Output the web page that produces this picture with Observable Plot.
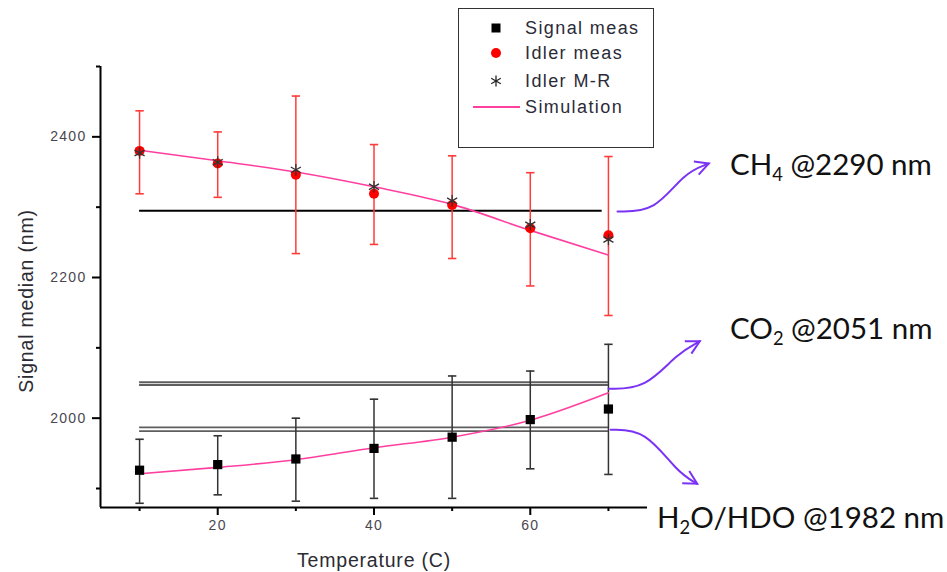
<!DOCTYPE html>
<html><head><meta charset="utf-8">
<script src="https://cdn.jsdelivr.net/npm/d3@7"></script>
<script src="https://cdn.jsdelivr.net/npm/@observablehq/plot@0.6"></script>
<style>
body{margin:0;background:#fff;}
#wrap{position:relative;width:947px;height:572px;overflow:hidden;background:#fff;}
#legend{position:absolute;left:458px;top:8px;width:196px;height:140px;border:1.5px solid #333;background:#fff;box-sizing:border-box;font-family:"Liberation Sans",Arial,sans-serif;font-size:18px;letter-spacing:1.4px;color:#2b2b38;}
#legend .ic{position:absolute;left:12px;width:50px;height:26px;}
#legend .tx{position:absolute;left:66px;height:22px;line-height:22px;white-space:nowrap;}
.ann{position:absolute;font-family:Lato,"Open Sans",sans-serif;font-size:29.5px;line-height:29.5px;white-space:nowrap;color:#111;}
.ann sub{font-size:0.62em;vertical-align:-0.32em;line-height:0;}
g[aria-label="y-axis tick label"] text, g[aria-label="x-axis tick label"] text{letter-spacing:1.3px;}
g[aria-label="text"] text{letter-spacing:0.8px;}
</style>
</head><body>
<div id="wrap"></div>
<script>
// ---- data ----
const temps      = [10, 20, 30, 40, 50, 60, 70];
const idlerMeas  = [2380, 2362, 2346, 2319, 2303, 2270, 2260];
const idlerLow   = [2319, 2314, 2234, 2247, 2227, 2188, 2146];
const idlerHigh  = [2437, 2407, 2458, 2389, 2373, 2349, 2372];
const idlerMR    = [2377, 2364, 2353, 2329, 2309, 2275, 2254];
const idlerSim   = [2381, 2366, 2350, 2329, 2304, 2267, 2232];
const signalMeas = [1926, 1934, 1942, 1957, 1973, 1998, 2013];
const signalLow  = [1879, 1891, 1882, 1886, 1886, 1928, 1920];
const signalHigh = [1970, 1975, 2000, 2027, 2060, 2067, 2105];
const signalSim  = [1921, 1930, 1941, 1958, 1973, 1997, 2036];

const ch4Line  = [2295];
const co2Lines = [2051, 2047];
const h2oLines = [1987, 1981.5];
const gasSpan  = [10, 70];
const ch4Span  = [10, 69.2];

const xTicks = [20, 40, 60];
const xMinor = [10, 30, 50, 70];
const yTicks = [2000, 2200, 2400];
const yMinor = [1900, 2100, 2300, 2500];
const xDomain = [5, 75];
const yDomain = [1873, 2500];

const legendLabels = ["Signal meas", "Idler meas", "Idler M-R", "Simulation"];
const gasNames = ["CH4", "CO2", "H2O"];
// annotation arrows: control points (data units) and arrowhead angle
const arrowX = [[71.16, 76.02, 79.61, 82.84], [70.01, 74.75, 78.80, 81.69], [70.27, 74.75, 78.80, 81.36]];
const arrowY = [[2294, 2294, 2348.3, 2362.1], [2041.8, 2041.8, 2091.9, 2109.4], [1983.5, 1983.5, 1923.2, 1906.7]];
const arrowAngle = [-20, -28, 30];

// ---- tables ----
const rows = temps.map((t, i) => ({
  t, iMeas: idlerMeas[i], iLo: idlerLow[i], iHi: idlerHigh[i], iMR: idlerMR[i], iSim: idlerSim[i],
  sMeas: signalMeas[i], sLo: signalLow[i], sHi: signalHigh[i], sSim: signalSim[i]
}));
const arrowPts = gasNames.flatMap((g, k) => arrowX[k].map((x, j) => ({g, x, y: arrowY[k][j]})));
const arrowTips = gasNames.map((g, k) => ({g, x: arrowX[k][3], y: arrowY[k][3], a: arrowAngle[k]}));

const capSym = {draw(ctx) { ctx.moveTo(-4.2, 0); ctx.lineTo(4.2, 0); }};
const chevron = {draw(ctx) {
  const L = 15, a = 28 * Math.PI / 180;
  ctx.moveTo(-L * Math.cos(a), -L * Math.sin(a)); ctx.lineTo(0, 0); ctx.lineTo(-L * Math.cos(a), L * Math.sin(a));
}};

const RED = "#ff3b3b", PINK = "#ff3fa0", PURPLE = "#7a33f5", GRAYL = "#5e5e5e", EB = "#333";
const fmt = d3.format("d");

const chart = Plot.plot({
  width: 947, height: 572,
  marginLeft: 100, marginRight: 300, marginTop: 66, marginBottom: 65,
  x: {domain: xDomain},
  y: {domain: yDomain},
  style: {fontFamily: "'Liberation Sans', Arial, sans-serif", background: "transparent", overflow: "visible"},
  marks: [
    Plot.ruleY(co2Lines, {y: d => d, x1: gasSpan[0], x2: gasSpan[1], stroke: GRAYL, strokeWidth: 2}),
    Plot.ruleY(h2oLines, {y: d => d, x1: gasSpan[0], x2: gasSpan[1], stroke: GRAYL, strokeWidth: 1.8}),
    Plot.ruleY(ch4Line, {y: d => d, x1: ch4Span[0], x2: ch4Span[1], stroke: "#000", strokeWidth: 2}),
    // error bars
    Plot.ruleX(rows, {x: "t", y1: "iLo", y2: "iHi", stroke: RED, strokeWidth: 1.5}),
    Plot.dot(rows, {x: "t", y: "iLo", symbol: capSym, fill: "none", stroke: RED, strokeWidth: 1.6}),
    Plot.dot(rows, {x: "t", y: "iHi", symbol: capSym, fill: "none", stroke: RED, strokeWidth: 1.6}),
    Plot.ruleX(rows, {x: "t", y1: "sLo", y2: "sHi", stroke: EB, strokeWidth: 1.5}),
    Plot.dot(rows, {x: "t", y: "sLo", symbol: capSym, fill: "none", stroke: EB, strokeWidth: 1.6}),
    Plot.dot(rows, {x: "t", y: "sHi", symbol: capSym, fill: "none", stroke: EB, strokeWidth: 1.6}),
    // simulation
    Plot.line(rows, {x: "t", y: "iSim", stroke: PINK, strokeWidth: 1.6, curve: "monotone-x"}),
    Plot.line(rows, {x: "t", y: "sSim", stroke: PINK, strokeWidth: 1.6, curve: "monotone-x"}),
    // measurements
    Plot.dot(rows, {x: "t", y: "iMeas", fill: "#ff0000", r: 5}),
    Plot.dot(rows, {x: "t", y: "iMR", symbol: "asterisk", stroke: "#333", strokeWidth: 1.3, r: 5.5}),
    Plot.dot(rows, {x: "t", y: "sMeas", symbol: "square", fill: "#000", r: 5.2}),
    // arrows
    Plot.line(arrowPts, {x: "x", y: "y", z: "g", curve: "basis", stroke: PURPLE, strokeWidth: 2}),
    Plot.dot(arrowTips, {x: "x", y: "y", rotate: "a", symbol: chevron, fill: "none", stroke: PURPLE, strokeWidth: 2, strokeLinejoin: "miter"}),
    // axes
    Plot.ruleX([xDomain[0]], {y1: yDomain[0], y2: yDomain[1], stroke: "#000", strokeWidth: 2}),
    Plot.ruleY([yDomain[0]], {x1: xDomain[0], x2: xDomain[1], stroke: "#000", strokeWidth: 2}),
    Plot.axisY({ticks: yTicks, tickSize: 8, tickPadding: 6, tickFormat: fmt, label: null, fontSize: 14, fill: "#4a4650", stroke: "#000", strokeWidth: 2}),
    Plot.axisY({ticks: yMinor, tickSize: 4, tickFormat: () => "", label: null, stroke: "#000", strokeWidth: 2}),
    Plot.axisX({ticks: xTicks, tickSize: 8, tickPadding: 5, tickFormat: fmt, label: null, fontSize: 14, fill: "#4a4650", stroke: "#000", strokeWidth: 2}),
    Plot.axisX({ticks: xMinor, tickSize: 4, tickFormat: () => "", label: null, stroke: "#000", strokeWidth: 2}),
    Plot.text(["Temperature (C)"], {frameAnchor: "bottom", dy: 53, lineAnchor: "middle", fontSize: 19.5, fill: "#2b2b33"}),
    Plot.text(["Signal median (nm)"], {frameAnchor: "left", dx: -74, dy: 14, rotate: -90, lineAnchor: "middle", textAnchor: "middle", fontSize: 19.5, fill: "#2b2b33"})
  ]
});
const wrap = document.getElementById("wrap");
wrap.appendChild(chart);

// legend
const lg = document.createElement("div");
lg.id = "legend";
const rowsY = [19, 44, 72, 98];
const icons = [
  '<rect x="20.5" y="8.5" width="9" height="9" fill="#000"/>',
  '<circle cx="25" cy="13" r="5" fill="#ff0000"/>',
  '<g stroke="#222" stroke-width="1.3"><line x1="25" y1="7.5" x2="25" y2="18.5"/><line x1="20.2" y1="10.2" x2="29.8" y2="15.8"/><line x1="20.2" y1="15.8" x2="29.8" y2="10.2"/></g>',
  '<line x1="2" y1="13" x2="49" y2="13" stroke="' + PINK + '" stroke-width="2"/>'
];
legendLabels.forEach((lab, i) => {
  const ic = document.createElement("div");
  ic.className = "ic"; ic.style.top = (rowsY[i] - 13) + "px";
  ic.innerHTML = '<svg width="50" height="26">' + icons[i] + '</svg>';
  const tx = document.createElement("div");
  tx.className = "tx"; tx.style.top = (rowsY[i] - 11) + "px"; tx.textContent = lab;
  lg.appendChild(ic); lg.appendChild(tx);
});
wrap.appendChild(lg);

// annotations
const anns = [
  {html: 'CH<sub>4</sub> @2290 nm', left: 730, top: 149},
  {html: 'CO<sub>2</sub> @2051 nm', left: 730, top: 313},
  {html: 'H<sub>2</sub>O/HDO @1982 nm', left: 657, top: 502}
];
anns.forEach(a => {
  const d = document.createElement("div");
  d.className = "ann"; d.style.left = a.left + "px"; d.style.top = a.top + "px";
  d.innerHTML = a.html; wrap.appendChild(d);
});
</script>
</body></html>
